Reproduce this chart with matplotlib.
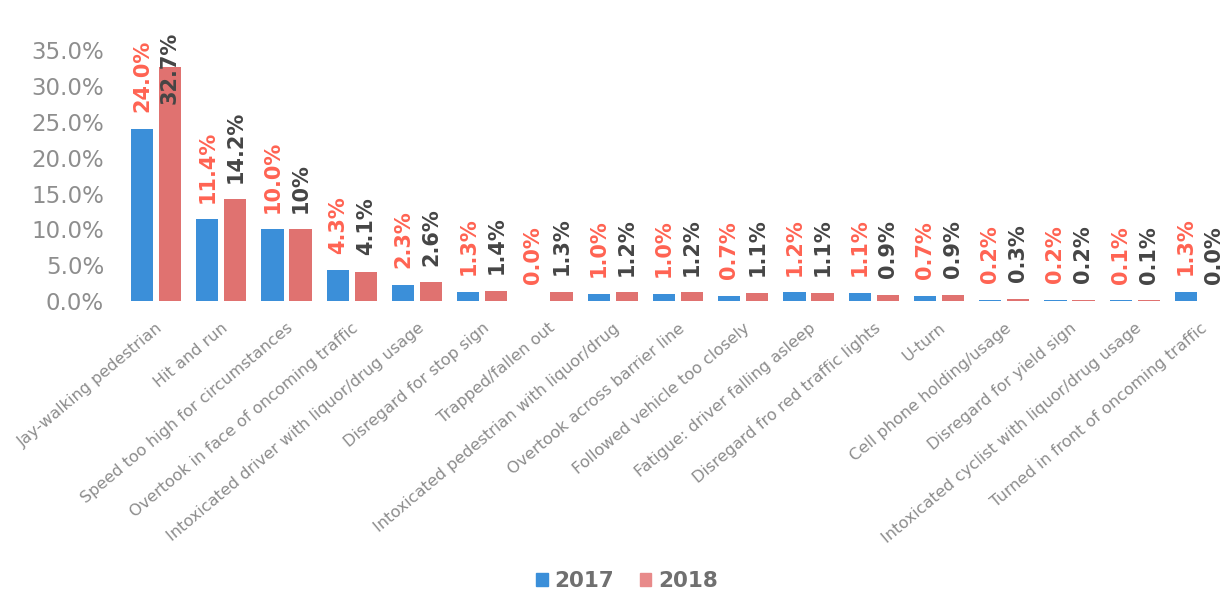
import numpy as np
import matplotlib.pyplot as plt
from matplotlib.patches import Patch

# datos
categorias = ["Jay-walking pedestrian", "Hit and run", "Speed too high for circumstances",
              "Overtook in face of oncoming traffic", "Intoxicated driver with liquor/drug usage",
              "Disregard for stop sign", "Trapped/fallen out", "Intoxicated pedestrian with liquor/drug",
              "Overtook across barrier line", "Followed vehicle too closely",
              "Fatigue: driver falling asleep", "Disregard fro red traffic lights", "U-turn",
              "Cell phone holding/usage", "Disregard for yield sign",
              "Intoxicated cyclist with liquor/drug usage", "Turned in front of oncoming traffic"]
v2017 = [24.0, 11.4, 10.0, 4.3, 2.3, 1.3, 0.0, 1.0, 1.0, 0.7, 1.2, 1.1, 0.7, 0.2, 0.2, 0.1, 1.3]
v2018 = [32.7, 14.2, 10.0, 4.1, 2.6, 1.4, 1.3, 1.2, 1.2, 1.1, 1.1, 0.9, 0.9, 0.3, 0.2, 0.1, 0.0]
etiq2017 = ["%.1f%%" % v for v in v2017]
etiq2018 = ["%.1f%%" % v for v in v2018]
etiq2018[2] = "10%"
yticks = [0, 5, 10, 15, 20, 25, 30, 35]

azul = "#3b8fd9"
rojo = "#e07270"
rojo_txt = "#ff6352"
gris_txt = "#454545"

fig = plt.figure(figsize=(12.29, 5.93), dpi=100)
ax = fig.add_axes([0.1004, 0.4924, 0.8972, 0.4592])

x = np.arange(len(categorias))
w = 0.34
d = 0.215
ax.bar(x - d, v2017, w, color=azul)
ax.bar(x + d, v2018, w, color=rojo)

tope = 38
ax.set_ylim(0, tope)
ax.set_xlim(-0.5, 16.4)

# etiquetas de valores
for i in range(len(x)):
    for xx, v, t, c in [(x[i] - d, v2017[i], etiq2017[i], rojo_txt),
                        (x[i] + d, v2018[i], etiq2018[i], gris_txt)]:
        if v + 2.4 + 10.5 > tope:
            ax.annotate(t, (xx, tope), xytext=(0, -2), textcoords="offset points",
                        rotation=90, ha="center", va="top", fontsize=15,
                        fontweight="bold", color=c, annotation_clip=False)
        else:
            ax.annotate(t, (xx, v), xytext=(0, 12), textcoords="offset points",
                        rotation=90, ha="center", va="bottom", fontsize=15,
                        fontweight="bold", color=c, annotation_clip=False)

ax.set_yticks(yticks)
ax.set_yticklabels(["%.1f%%" % t for t in yticks], fontsize=16.5, color="#8e8e8e")
ax.set_xticks(x)
ax.set_xticklabels(categorias, rotation=40, ha="right", rotation_mode="anchor",
                   fontsize=11.6, color="#8c8c8c")
ax.tick_params(axis="both", length=0)
ax.tick_params(axis="y", pad=14)
ax.tick_params(axis="x", pad=14)
for s in ax.spines.values():
    s.set_visible(False)

handles = [Patch(color=azul, label="2017"), Patch(color="#e88a8a", label="2018")]
leg = fig.legend(handles=handles, loc="lower center", bbox_to_anchor=(0.51, -0.03), ncol=2,
                 frameon=False, handlelength=0.55, handleheight=0.55, handletextpad=0.3,
                 columnspacing=1.2, prop={"size": 15.5, "weight": "bold"})
for t in leg.get_texts():
    t.set_color("#707070")

plt.savefig("out.png", dpi=100)
